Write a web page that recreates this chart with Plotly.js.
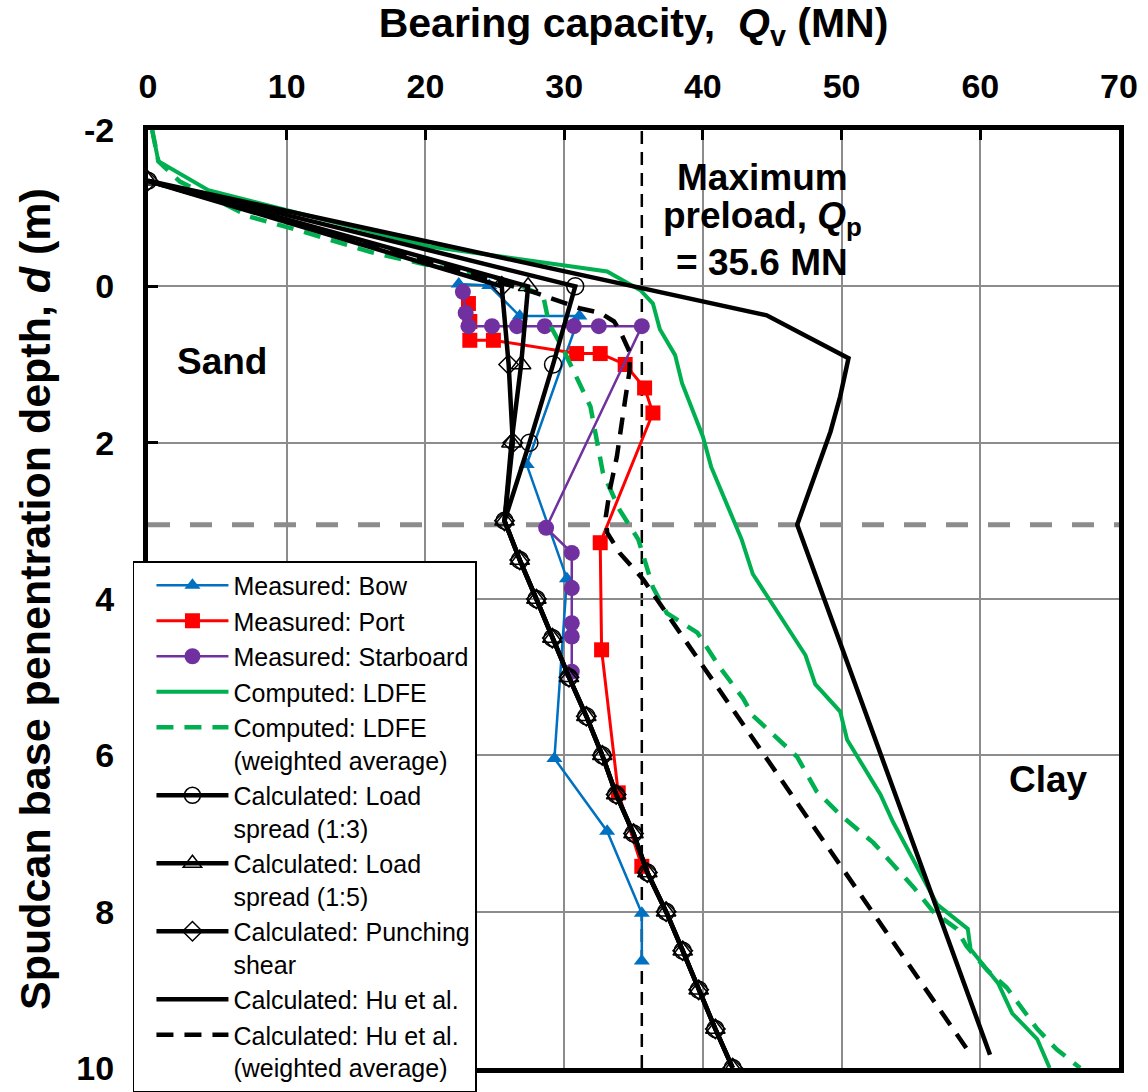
<!DOCTYPE html>
<html>
<head>
<meta charset="utf-8">
<script src="https://cdn.plot.ly/plotly-3.0.1.min.js"></script>
<style>html,body{margin:0;padding:0;background:#fff;}#chart{width:1148px;height:1092px;}</style>
</head>
<body>
<div id="chart"></div>
<script>
// ---- Data ----
const bowQ = [22.4, 24.6, 26.8, 31.1, 27.3, 30.2, 29.3, 33.1, 35.6, 35.6];
const bowD = [-0.03, -0.01, 0.38, 0.38, 2.28, 3.74, 6.04, 6.97, 8.02, 8.63];

const portQ = [23.1, 23.2, 23.2, 24.9, 30.9, 32.6, 34.4, 35.8, 36.4, 32.6, 32.7, 33.9, 35.6];
const portD = [0.22, 0.45, 0.69, 0.69, 0.86, 0.86, 1.0, 1.3, 1.62, 3.28, 4.65, 6.48, 7.42];

const starQ = [22.7, 22.9, 23.1, 24.8, 26.6, 28.6, 30.7, 32.5, 35.6, 28.7, 30.55, 30.55, 30.55, 30.55, 30.55];
const starD = [0.07, 0.34, 0.51, 0.51, 0.51, 0.51, 0.51, 0.51, 0.51, 3.09, 3.41, 3.86, 4.31, 4.48, 4.93];

const ldfeQ = [0.3, 0.75, 4.35, 20.3, 33.1, 35.5, 36.4, 36.9, 38.0, 38.5, 40.0, 40.6, 42.8, 43.6, 47.4, 48.1, 49.9, 50.4, 52.8, 53.7, 56.9, 59.1, 59.3, 61.3, 62.3, 64.1, 65.0];
const ldfeD = [-2.0, -1.6, -1.23, -0.51, -0.19, 0.05, 0.22, 0.55, 0.88, 1.24, 1.92, 2.31, 3.24, 3.68, 4.72, 5.09, 5.44, 5.80, 6.50, 6.85, 7.91, 8.22, 8.48, 8.92, 9.30, 9.63, 10.0];

const ldfeWQ = [0.3, 0.75, 2.3, 7.35, 11.2, 16.0, 20.0, 24.9, 27.0, 28.5, 28.9, 29.95, 31.9, 32.8, 34.0, 35.0, 35.35, 36.4, 37.4, 39.6, 41.2, 42.9, 43.6, 46.8, 48.2, 49.9, 52.3, 55.2, 56.6, 58.3, 59.0, 60.5, 61.9, 64.1, 65.5, 67.2];
const ldfeWD = [-2.0, -1.6, -1.34, -0.89, -0.70, -0.44, -0.28, -0.12, 0.0, 0.13, 0.47, 0.81, 1.54, 2.39, 2.86, 3.16, 3.24, 3.85, 4.18, 4.43, 4.87, 5.27, 5.49, 6.02, 6.46, 6.76, 7.12, 7.69, 8.0, 8.22, 8.44, 8.75, 8.97, 9.50, 9.76, 10.0];

// calculated methods: sand part differs, clay part (d >= 3.5 m) is common
const clayD = [3.5, 4.0, 4.5, 5.0, 5.5, 6.0, 6.5, 7.0, 7.5, 8.0, 8.5, 9.0, 9.5, 10.0];
const clayQ = [26.8, 28.0, 29.15, 30.35, 31.6, 32.75, 33.75, 35.0, 36.0, 37.35, 38.55, 39.7, 40.9, 42.15];

const sandD = [-1.35, 0, 1, 2, 3];
const ls13SandQ = [0, 30.8, 29.2, 27.5, 25.7];
const ls15SandQ = [0, 27.4, 26.9, 26.2, 25.7];
const psSandQ   = [0, 25.5, 26.0, 26.3, 25.7];

const huQ = [0, 44.6, 50.5, 49.9, 49.2, 48.2, 46.8, 60.7];
const huD = [-1.35, 0.37, 0.92, 1.41, 1.86, 2.35, 3.05, 9.83];

const huWQ = [0, 27.9, 31.1, 32.6, 33.6, 34.0, 34.75, 34.7, 34.4, 33.8, 33.3, 33.0, 33.1, 34.0, 35.7, 59.4];
const huWD = [-1.35, 0.08, 0.28, 0.34, 0.45, 0.56, 0.85, 1.1, 1.45, 2.18, 2.6, 2.95, 3.15, 3.41, 3.75, 9.85];

const maxPreload = 35.6;      // MN
const sandClayDepth = 3.05;   // m

const xTicks = [0, 10, 20, 30, 40, 50, 60, 70];
const yTicks = [-2, 0, 2, 4, 6, 8, 10];
const yTickLabels = ['-2', '0', '2', '4', '6', '8', '10'];

const names = [
  'Measured: Bow',
  'Measured: Port',
  'Measured: Starboard',
  'Computed: LDFE',
  'Computed: LDFE<br>(weighted average)',
  'Calculated: Load<br>spread (1:3)',
  'Calculated: Load<br>spread (1:5)',
  'Calculated: Punching<br>shear',
  'Calculated: Hu et al.',
  'Calculated: Hu et al.<br>(weighted average)'
];

// ---- Traces ----
const F = 'Liberation Sans, Arial, sans-serif';
const traces = [
  {x: bowQ, y: bowD, name: names[0], mode: 'lines+markers',
   line: {color: '#0070C0', width: 2.5}, marker: {symbol: 'triangle-up', size: 14, color: '#0070C0'}},
  {x: portQ, y: portD, name: names[1], mode: 'lines+markers',
   line: {color: '#FF0000', width: 3}, marker: {symbol: 'square', size: 15, color: '#FF0000'}},
  {x: starQ, y: starD, name: names[2], mode: 'lines+markers',
   line: {color: '#7030A0', width: 2.5}, marker: {symbol: 'circle', size: 16, color: '#7030A0'}},
  {x: ldfeQ, y: ldfeD, name: names[3], mode: 'lines',
   line: {color: '#00B050', width: 4}},
  {x: ldfeWQ, y: ldfeWD, name: names[4], mode: 'lines',
   line: {color: '#00B050', width: 4.5, dash: '17px,11px'}},
  {x: ls13SandQ.concat(clayQ), y: sandD.concat(clayD), name: names[5], mode: 'lines+markers',
   line: {color: '#000', width: 4.5}, marker: {symbol: 'circle-open', size: 17, color: '#000', line: {width: 1.5}}},
  {x: ls15SandQ.concat(clayQ), y: sandD.concat(clayD), name: names[6], mode: 'lines+markers',
   line: {color: '#000', width: 4.5}, marker: {symbol: 'triangle-up-open', size: 17, color: '#000', line: {width: 1.5}}},
  {x: psSandQ.concat(clayQ), y: sandD.concat(clayD), name: names[7], mode: 'lines+markers',
   line: {color: '#000', width: 4.5}, marker: {symbol: 'diamond-open', size: 15, color: '#000', line: {width: 1.5}}},
  {x: huQ, y: huD, name: names[8], mode: 'lines',
   line: {color: '#000', width: 4.5}},
  {x: huWQ, y: huWD, name: names[9], mode: 'lines',
   line: {color: '#000', width: 4.5, dash: '17px,11px'}}
];
traces.forEach((t, i) => { t.type = 'scatter'; t.legendgroup = 'g' + i; });

const layout = {
  width: 1148, height: 1092,
  margin: {l: 148, r: 29, t: 130, b: 24, autoexpand: false},
  paper_bgcolor: '#fff', plot_bgcolor: '#fff',
  font: {family: F, color: '#000'},
  showlegend: true,
  legend: {
    x: -0.0155, y: 0.5405, xanchor: 'left', yanchor: 'top',
    bgcolor: '#fff', bordercolor: '#000', borderwidth: 1.5,
    font: {family: F, size: 25, color: '#000'},
    itemwidth: 72, indentation: 17, tracegroupgap: 0, valign: 'top', traceorder: 'normal'
  },
  xaxis: {
    side: 'top', range: [0, 70], tickvals: xTicks,
    showgrid: true, gridcolor: '#8C8C8C', gridwidth: 2, zeroline: false,
    showline: true, linecolor: '#000', linewidth: 5, mirror: true,
    ticks: 'inside', ticklen: 10, tickwidth: 3, tickcolor: '#000',
    tickfont: {family: F, size: 34, color: '#000', weight: 700},
    ticklabelstandoff: 13,
    title: {text: '<b>Bearing capacity,  <i>Q</i><sub>v</sub> (MN)</b>', font: {family: F, size: 41, color: '#000'}, standoff: 20},
    automargin: false, fixedrange: true
  },
  yaxis: {
    range: [10, -2], tickvals: yTicks, ticktext: yTickLabels,
    showgrid: true, gridcolor: '#8C8C8C', gridwidth: 2, zeroline: false,
    showline: true, linecolor: '#000', linewidth: 5, mirror: true,
    ticks: 'inside', ticklen: 10, tickwidth: 3, tickcolor: '#000',
    tickfont: {family: F, size: 34, color: '#000', weight: 700},
    ticklabelstandoff: 22,
    title: {text: '<b>Spudcan base penentration depth, <i>d</i> (m)</b>', font: {family: F, size: 43, color: '#000'}, standoff: 14},
    automargin: false, fixedrange: true
  },
  shapes: [
    {type: 'line', xref: 'x', yref: 'paper', x0: maxPreload, x1: maxPreload, y0: 0, y1: 1,
     line: {color: '#000', width: 2.5, dash: '13px,8px'}, layer: 'between'},
    {type: 'line', xref: 'paper', yref: 'y', x0: 0, x1: 1, y0: sandClayDepth, y1: sandClayDepth,
     line: {color: '#8C8C8C', width: 5, dash: '22px,20px'}, layer: 'between'}
  ],
  annotations: [
    {x: 5.3, y: 0.96, xref: 'x', yref: 'y', text: '<b>Sand</b>', showarrow: false,
     font: {family: F, size: 37, color: '#000'}, xanchor: 'center', yanchor: 'middle'},
    {x: 64.9, y: 6.31, xref: 'x', yref: 'y', text: '<b>Clay</b>', showarrow: false,
     font: {family: F, size: 37, color: '#000'}, xanchor: 'center', yanchor: 'middle'},
    {x: 44.27, y: -1.39, xref: 'x', yref: 'y', text: '<b>Maximum</b>', showarrow: false,
     font: {family: F, size: 37, color: '#000'}, xanchor: 'center', yanchor: 'middle'},
    {x: 44.27, y: -0.87, xref: 'x', yref: 'y', text: '<b>preload, <i>Q</i><sub>p</sub></b>', showarrow: false,
     font: {family: F, size: 37, color: '#000'}, xanchor: 'center', yanchor: 'middle'},
    {x: 44.27, y: -0.31, xref: 'x', yref: 'y', text: '<b>= ' + maxPreload.toFixed(1) + ' MN</b>', showarrow: false,
     font: {family: F, size: 37, color: '#000'}, xanchor: 'center', yanchor: 'middle'}
  ]
};

Plotly.newPlot('chart', traces, layout, {displayModeBar: false, staticPlot: true});
</script>
</body>
</html>
